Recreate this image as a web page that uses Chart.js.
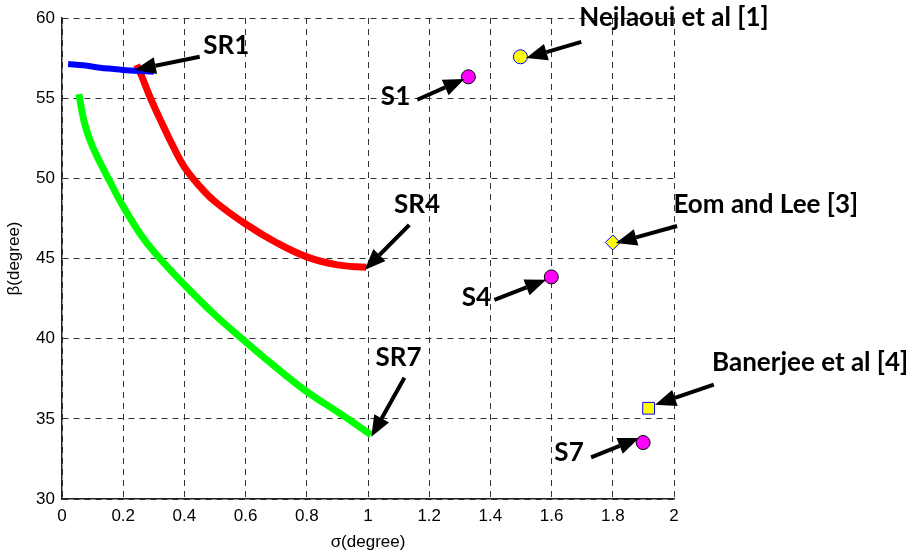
<!DOCTYPE html>
<html>
<head>
<meta charset="utf-8">
<script src="https://cdn.jsdelivr.net/npm/chart.js@4"></script>
<style>
  body { margin: 0; background: #fff; }
  #wrap { width: 917px; height: 553px; }
</style>
</head>
<body>
<div id="wrap"><canvas id="myChart"></canvas></div>
<script>
// curves (sigma, beta in degrees)
const sigmaSR1 = [0.02, 0.07, 0.124, 0.17, 0.211, 0.25, 0.30];
const betaSR1 = [57.13, 57.05, 56.9, 56.82, 56.74, 56.7, 56.65];

const sigmaSR4 = [0.244, 0.26, 0.287, 0.33, 0.363, 0.4, 0.45, 0.5, 0.6, 0.7, 0.8, 0.9, 0.994];
const betaSR4 = [57.08, 56.4, 55.1, 53.3, 52.0, 50.7, 49.5, 48.55, 47.15, 46.0, 45.1, 44.6, 44.45];

const sigmaSR7 = [0.055, 0.075, 0.102, 0.162, 0.2, 0.254, 0.309, 0.4, 0.493, 0.6, 0.7, 0.8, 0.907, 1.01];
const betaSR7 = [55.25, 53.33, 51.88, 49.6, 48.24, 46.58, 45.23, 43.36, 41.6, 39.8, 38.2, 36.7, 35.35, 34.0];

// single solutions
const sigmaS = [1.328, 1.599, 1.899];
const betaS = [56.33, 43.85, 33.52];
const sigmaNejlaoui = [1.498];
const betaNejlaoui = [57.58];
const sigmaEom = [1.8];
const betaEom = [46.0];
const sigmaBanerjee = [1.917];
const betaBanerjee = [35.66];

const xTicks = [0, 0.2, 0.4, 0.6, 0.8, 1, 1.2, 1.4, 1.6, 1.8, 2];
const yTicks = [30, 35, 40, 45, 50, 55, 60];

// text + arrows, in data units: label centre, arrow tail, arrow tip
const notes = [
  { text: "SR1", lx: 0.537, ly: 58.3, tail: [0.45, 57.58], tip: [0.238, 56.77] },
  { text: "SR4", lx: 1.16, ly: 48.35, tail: [1.135, 47.1], tip: [0.989, 44.29] },
  { text: "SR7", lx: 1.1, ly: 38.8, tail: [1.119, 37.56], tip: [1.011, 33.88] },
  { text: "S1", lx: 1.09, ly: 55.08, tail: [1.161, 54.9], tip: [1.315, 56.2] },
  { text: "Nejlaoui et al [1]", lx: 2.0, ly: 60.0, tail: [1.697, 58.51], tip: [1.517, 57.51] },
  { text: "Eom and Lee [3]", lx: 2.3, ly: 48.35, tail: [2.01, 47.03], tip: [1.81, 45.97] },
  { text: "S4", lx: 1.354, ly: 42.55, tail: [1.413, 42.42], tip: [1.582, 43.67] },
  { text: "Banerjee et al [4]", lx: 2.445, ly: 38.5, tail: [2.13, 37.13], tip: [1.938, 35.88] },
  { text: "S7", lx: 1.657, ly: 32.87, tail: [1.729, 32.6], tip: [1.886, 33.8] }
];

function pts(xs, ys) {
  return xs.map((x, i) => ({ x: x, y: ys[i] }));
}

const notesPlugin = {
  id: "notes",
  afterDraw(chart) {
    const ctx = chart.ctx;
    const sx = chart.scales.x;
    const sy = chart.scales.y;
    ctx.save();
    for (const n of notes) {
      const x1 = sx.getPixelForValue(n.tail[0]);
      const y1 = sy.getPixelForValue(n.tail[1]);
      const x2 = sx.getPixelForValue(n.tip[0]);
      const y2 = sy.getPixelForValue(n.tip[1]);
      const ang = Math.atan2(y2 - y1, x2 - x1);
      const headLen = 21, headW = 8.5;
      const bx = x2 - headLen * Math.cos(ang);
      const by = y2 - headLen * Math.sin(ang);
      ctx.strokeStyle = "#000";
      ctx.lineWidth = 4;
      ctx.beginPath();
      ctx.moveTo(x1, y1);
      ctx.lineTo(bx, by);
      ctx.stroke();
      ctx.fillStyle = "#000";
      ctx.beginPath();
      ctx.moveTo(x2, y2);
      ctx.lineTo(bx + headW * Math.sin(ang), by - headW * Math.cos(ang));
      ctx.lineTo(bx - headW * Math.sin(ang), by + headW * Math.cos(ang));
      ctx.closePath();
      ctx.fill();

      ctx.font = "bold 26px Lato";
      ctx.textAlign = "center";
      ctx.textBaseline = "middle";
      ctx.fillText(n.text, sx.getPixelForValue(n.lx), sy.getPixelForValue(n.ly));
    }
    ctx.restore();
  }
};

const lineOpts = {
  showLine: true,
  pointRadius: 0,
  tension: 0.4,
  borderJoinStyle: "round",
  borderCapStyle: "butt"
};

const ctx = document.getElementById("myChart").getContext("2d");
const myChart = new Chart(ctx, {
  type: "scatter",
  data: {
    datasets: [
      Object.assign({ label: "SR1", data: pts(sigmaSR1, betaSR1), borderColor: "#0000ff", borderWidth: 6 }, lineOpts),
      Object.assign({ label: "SR4", data: pts(sigmaSR4, betaSR4), borderColor: "#ff0000", borderWidth: 7 }, lineOpts),
      Object.assign({ label: "SR7", data: pts(sigmaSR7, betaSR7), borderColor: "#00ff00", borderWidth: 7 }, lineOpts),
      {
        label: "S",
        data: pts(sigmaS, betaS),
        pointStyle: "circle",
        pointRadius: 7,
        backgroundColor: "#ff00ff",
        borderColor: "#000",
        borderWidth: 1
      },
      {
        label: "Nejlaoui",
        data: pts(sigmaNejlaoui, betaNejlaoui),
        pointStyle: "circle",
        pointRadius: 7,
        backgroundColor: "#ffff00",
        borderColor: "#0000ff",
        borderWidth: 1
      },
      {
        label: "Eom",
        data: pts(sigmaEom, betaEom),
        pointStyle: "rectRot",
        pointRadius: 7.5,
        backgroundColor: "#ffff00",
        borderColor: "#0000ff",
        borderWidth: 1
      },
      {
        label: "Banerjee",
        data: pts(sigmaBanerjee, betaBanerjee),
        pointStyle: "rect",
        pointRadius: 8.3,
        backgroundColor: "#ffff00",
        borderColor: "#0000ff",
        borderWidth: 1
      }
    ]
  },
  options: {
    responsive: true,
    maintainAspectRatio: false,
    animation: false,
    layout: { padding: { top: 18, right: 243, left: 0, bottom: 0 } },
    plugins: {
      legend: { display: false },
      tooltip: { enabled: false }
    },
    scales: {
      x: {
        type: "linear",
        min: 0,
        max: 2,
        afterBuildTicks: (scale) => { scale.ticks = xTicks.map(v => ({ value: v })); },
        afterFit: (scale) => { scale.height = 54; },
        grid: { color: "#333", lineWidth: 1, drawTicks: false },
        border: { display: true, color: "#222", width: 1.5, dash: [6, 5] },
        ticks: {
          color: "#000",
          padding: 7,
          font: { family: "Liberation Sans", size: 17 },
          callback: (v) => String(v)
        },
        title: {
          display: true,
          text: "σ(degree)",
          color: "#000",
          padding: { top: 1, bottom: 0 },
          font: { family: "Liberation Sans", size: 17 }
        }
      },
      y: {
        type: "linear",
        min: 30,
        max: 60,
        afterBuildTicks: (scale) => { scale.ticks = yTicks.map(v => ({ value: v })); },
        afterFit: (scale) => { scale.width = 62; },
        grid: { color: "#333", lineWidth: 1, drawTicks: false },
        border: { display: true, color: "#222", width: 1.5, dash: [6, 5] },
        ticks: {
          color: "#000",
          padding: 7,
          font: { family: "Liberation Sans", size: 17 }
        },
        title: {
          display: true,
          text: "β(degree)",
          color: "#000",
          padding: { top: 4, bottom: 2 },
          font: { family: "Liberation Sans", size: 17 }
        }
      }
    }
  },
  plugins: [notesPlugin]
});
</script>
</body>
</html>
